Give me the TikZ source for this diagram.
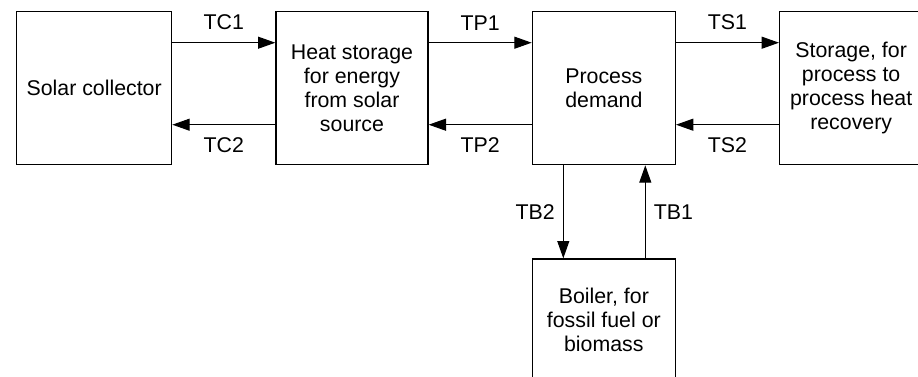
\documentclass[tikz,border=0pt]{standalone}
\usepackage{fontspec}
\setmainfont{Liberation Sans}
\usetikzlibrary{arrows.meta,positioning}

\begin{document}
\begin{tikzpicture}[>={Triangle[length=13pt,width=9pt]},node distance=69.75pt and 77.25pt,
 blk/.style={draw,line width=1pt,align=center,minimum height=114.75pt,inner sep=0pt,
 font=\fontsize{16}{18}\selectfont},
 flow/.style={->,line width=0.8pt},
 lbl/.style={font=\fontsize{16}{18}\selectfont,inner sep=3pt}]
\useasboundingbox (0,0) rectangle (688.5pt,-282pt);
\clip (0,0) rectangle (688.5pt,-282pt);
\node[blk,minimum width=116.25pt,anchor=north west] (solar) at (12pt,-8.25pt) {Solar collector};
\node[blk,minimum width=114pt,right=of solar] (heat) {Heat storage\\for energy\\from solar\\source};
\node[blk,minimum width=107.25pt,right=of heat] (demand) {Process\\demand};
\node[blk,minimum width=107.25pt,right=of demand] (recover) {Storage, for\\process to\\process heat\\recovery};
\node[blk,minimum width=107.25pt,minimum height=90.75pt,below=of demand] (boiler) {Boiler, for\\fossil fuel or\\biomass};
\draw[flow] ([yshift=34.1pt]solar.east) -- node[lbl,above=6pt]{TC1} ([yshift=34.1pt]heat.west);
\draw[flow] ([yshift=-27.4pt]heat.west) -- node[lbl,below=6pt]{TC2} ([yshift=-27.4pt]solar.east);
\draw[flow] ([yshift=34.1pt]heat.east) -- node[lbl,above=6pt]{TP1} ([yshift=34.1pt]demand.west);
\draw[flow] ([yshift=-27.4pt]demand.west) -- node[lbl,below=6pt]{TP2} ([yshift=-27.4pt]heat.east);
\draw[flow] ([yshift=34.1pt]demand.east) -- node[lbl,above=6pt]{TS1} ([yshift=34.1pt]recover.west);
\draw[flow] ([yshift=-27.4pt]recover.west) -- node[lbl,below=6pt]{TS2} ([yshift=-27.4pt]demand.east);
\draw[flow] ([xshift=-30.4pt]demand.south) -- node[lbl,left=3pt]{TB2} ([xshift=-30.4pt]boiler.north);
\draw[flow] ([xshift=31.1pt]boiler.north) -- node[lbl,right=3pt]{TB1} ([xshift=31.1pt]demand.south);
\end{tikzpicture}
\end{document}
